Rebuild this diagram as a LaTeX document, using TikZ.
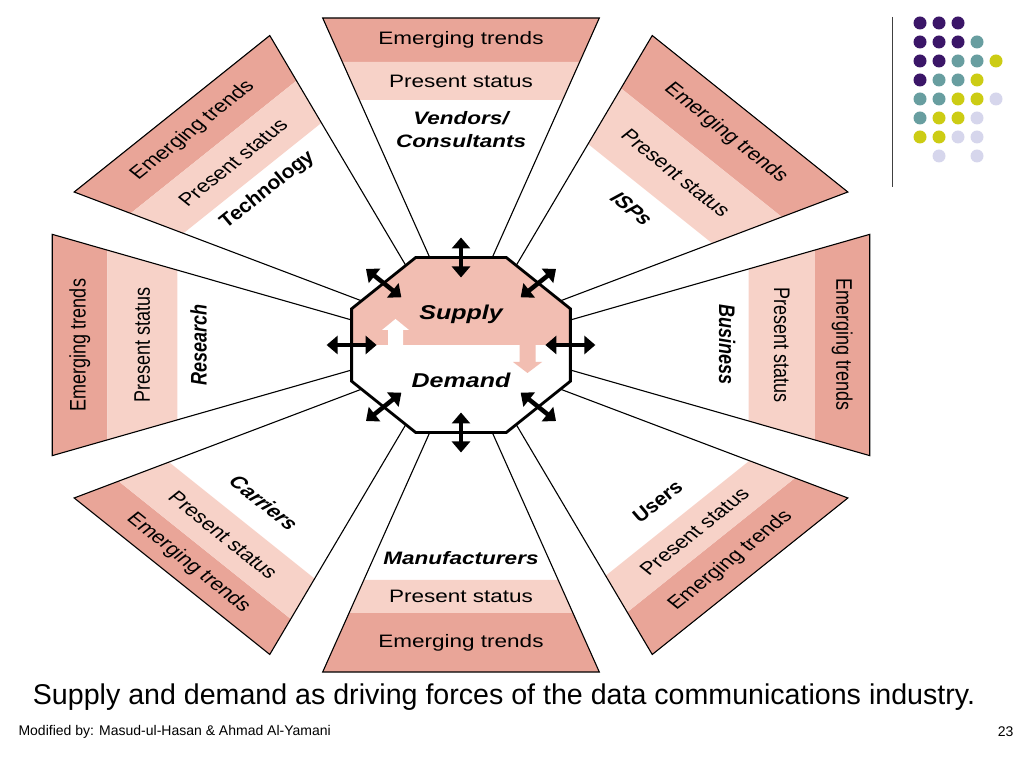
\documentclass[tikz,border=0pt]{standalone}
\usepackage{fontspec}
\setmainfont{Liberation Sans}
\usetikzlibrary{arrows.meta}
\definecolor{emerg}{RGB}{233,165,152}
\definecolor{present}{RGB}{247,210,200}
\definecolor{supply}{RGB}{242,190,178}
\definecolor{dotpurple}{RGB}{59,22,104}
\definecolor{dotteal}{RGB}{104,158,160}
\definecolor{dotyellow}{RGB}{204,204,20}
\definecolor{dotlilac}{RGB}{214,214,236}
\tikzset{%
    band/.style={font=\fontsize{18}{20}\selectfont},
    sector/.style={font=\fontsize{18}{23}\selectfont\bfseries\itshape, align=center},
    core/.style={font=\fontsize{20}{22}\selectfont\bfseries\itshape},
    edge/.style={draw=black, line width=1.1pt},
    force/.style={line width=4.5pt, {Triangle[width=18pt,length=11pt]}-{Triangle[width=18pt,length=11pt]}},
    dot/.style={circle, inner sep=0pt, minimum size=13pt}
}

\begin{document}
\begin{tikzpicture}[x=1pt,y=1pt]
	\useasboundingbox (0,0) rectangle (1024,768);
	\begin{scope}[shift={(461,423)}, xscale=1.25, transform shape]
	% eight panels round the octagon
	\foreach \ang/\ep/\pw/\rot in {90/283/245/0, 45/272/214/-45, 0/283/230/-90, -45/283/245/45,
		-90/268/235/0, -135/290/248/-45, 180/283/227/90, 135/280/236/45}{
		\begin{scope}[rotate=\ang-90]
			\pgfmathsetmacro{\wo}{(327-17.5)*0.3575}
			\pgfmathsetmacro{\we}{(\ep-17.5)*0.3575}
			\pgfmathsetmacro{\wp}{(\pw-17.5)*0.3575}
			\pgfmathsetmacro{\wi}{(80-17.5)*0.3575}
			\fill[emerg] (-\wo,327) -- (\wo,327) -- (\we,\ep) -- (-\we,\ep) -- cycle;
			\fill[present] (-\we,\ep) -- (\we,\ep) -- (\wp,\pw) -- (-\wp,\pw) -- cycle;
			\draw[edge] (-\wi,80) -- (-\wo,327) -- (\wo,327) -- (\wi,80);
		\end{scope}
		\node[band, rotate=\rot] (trend\ang) at (\ang:{(327+\ep)/2}) {Emerging trends};
		\node[band, rotate=\rot] (status\ang) at (\ang:{(\ep+\pw)/2}) {Present status};
	}
	\node[sector] (vendors) at (90:215) {Vendors/\\Consultants};
	\node[sector, rotate=-45] (isps) at (45:193) {ISPs};
	\node[sector, rotate=-90] (business) at (0:213) {Business};
	\node[sector, rotate=45] (users) at (-45:222) {Users};
	\node[sector] (makers) at (-90:213) {Manufacturers};
	\node[sector, rotate=-45] (carriers) at (-135:223) {Carriers};
	\node[sector, rotate=90] (research) at (180:210) {Research};
	\node[sector, rotate=45] (technology) at (135:219) {Technology};
	% the octagon, supply above and demand below
	\fill[white] (22.5:94.7) \foreach \k in {1,...,7}{ -- (22.5+45*\k:94.7)} -- cycle;
	\begin{scope}
		\clip (22.5:94.7) \foreach \k in {1,...,7}{ -- (22.5+45*\k:94.7)} -- cycle;
		\fill[supply] (-100,0) rectangle (100,100);
		\fill[white] (-58.4,-0.5) -- (-58.4,15) -- (-63.2,15) -- (-52.4,26) -- (-41.6,15) -- (-46.4,15) -- (-46.4,-0.5) -- cycle;
		\fill[supply] (46.8,0.5) -- (46.8,-17) -- (41.6,-17) -- (53.2,-28) -- (64.8,-17) -- (59.6,-17) -- (59.6,0.5) -- cycle;
	\end{scope}
	\draw[line width=2.8pt] (22.5:94.7) \foreach \k in {1,...,7}{ -- (22.5+45*\k:94.7)} -- cycle;
	\node[core] (supply) at (0,31) {Supply};
	\node[core] (demand) at (0,-35) {Demand};
	\foreach \ang in {0,45,...,315}
		\draw[force] (\ang:67.5) -- (\ang:107.5);
	\end{scope}
	% slide decoration
	\draw[line width=1pt, black!75] (892,751) -- (892,581);
	\foreach \col/\row/\c in {0/0/dotpurple, 1/0/dotpurple, 2/0/dotpurple,
		0/1/dotpurple, 1/1/dotpurple, 2/1/dotpurple, 3/1/dotteal,
		0/2/dotpurple, 1/2/dotpurple, 2/2/dotteal, 3/2/dotteal, 4/2/dotyellow,
		0/3/dotpurple, 1/3/dotteal, 2/3/dotteal, 3/3/dotyellow,
		0/4/dotteal, 1/4/dotteal, 2/4/dotyellow, 3/4/dotyellow, 4/4/dotlilac,
		0/5/dotteal, 1/5/dotyellow, 2/5/dotyellow, 3/5/dotlilac,
		0/6/dotyellow, 1/6/dotyellow, 2/6/dotlilac, 3/6/dotlilac,
		1/7/dotlilac, 3/7/dotlilac}
		\node[dot, fill=\c] (d\col\row) at ({920+19*\col},{745-19*\row}) {};
	\node[font=\fontsize{28.6}{32}\selectfont] (caption) at (504,71) {Supply and demand as driving forces of the data communications industry.};
	\node[anchor=west, font=\fontsize{14}{16}\selectfont] (credit) at (15,36) {Modified by: Masud-ul-Hasan \& Ahmad Al-Yamani};
	\node[anchor=east, font=\fontsize{14}{16}\selectfont] (page) at (1017,36) {23};
\end{tikzpicture}
\end{document}
